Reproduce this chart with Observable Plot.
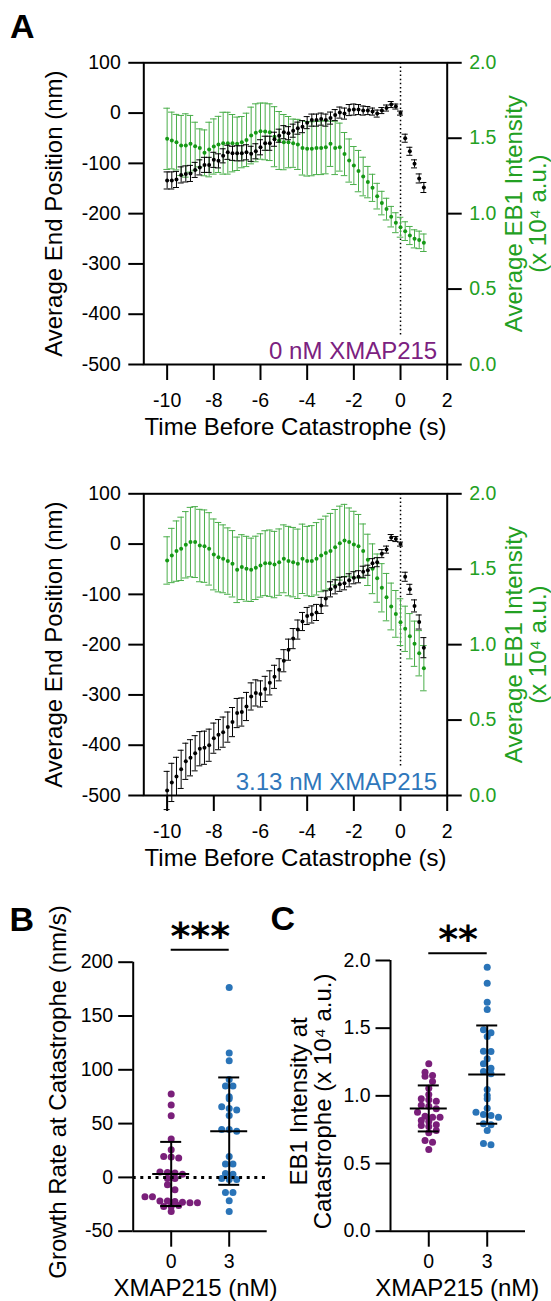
<!DOCTYPE html>
<html><head><meta charset="utf-8">
<script src="https://cdn.jsdelivr.net/npm/d3@7"></script>
<script src="https://cdn.jsdelivr.net/npm/@observablehq/plot@0.6"></script>
<style>
body{margin:0;background:#fff;font-family:"Liberation Sans",Arial,sans-serif;}
#wrap{position:relative;width:551px;height:1301px;overflow:hidden;background:#fff;}
.letter{position:absolute;font-weight:bold;font-size:34px;line-height:34px;font-family:"Liberation Sans",Arial,sans-serif;}
</style></head><body><div id="wrap"></div>
<script>
// ---------- Panel A data ----------
const time = [-10,-9.8,-9.6,-9.4,-9.2,-9,-8.8,-8.6,-8.4,-8.2,-8,-7.8,-7.6,-7.4,-7.2,-7,-6.8,-6.6,-6.4,-6.2,-6,-5.8,-5.6,-5.4,-5.2,-5,-4.8,-4.6,-4.4,-4.2,-4,-3.8,-3.6,-3.4,-3.2,-3,-2.8,-2.6,-2.4,-2.2,-2,-1.8,-1.6,-1.4,-1.2,-1,-0.8,-0.6,-0.4,-0.2,0,0.2,0.4,0.6,0.8,1];
const xTicksA = [-10,-8,-6,-4,-2,0,2];
const yTicksA = [-500,-400,-300,-200,-100,0,100];
const eb1Ticks = [0,0.5,1,1.5,2];

// 0 nM XMAP215
const pos0 = [-134,-134,-132,-123,-121,-120,-113,-108,-103,-103,-93,-95,-85,-78,-80,-80,-80,-78,-81,-76,-68,-60,-60,-52,-45,-38,-40,-35,-30,-27,-19,-14,-14,-12,-14,-10,-4,1,-1,6,7,7,5,5,3,-1,5,10,17,13,0,-50,-76,-101,-130,-148];
const pos0Err = [17,17,16,16,16,16,15,15,15,15,15,14,14,14,14,15,15,15,15,15,15,14,14,14,13,13,13,13,12,12,12,12,12,12,12,12,11,11,11,11,11,10,9,8,7,7,6,6,6,5,4,8,8,8,9,10];
const eb0 = [1.496,1.485,1.474,1.452,1.452,1.463,1.447,1.436,1.403,1.425,1.445,1.459,1.467,1.467,1.467,1.463,1.474,1.489,1.518,1.536,1.547,1.545,1.54,1.51,1.485,1.474,1.474,1.467,1.459,1.436,1.43,1.43,1.436,1.436,1.441,1.463,1.436,1.441,1.395,1.352,1.319,1.282,1.246,1.209,1.171,1.116,1.07,1.03,0.98,0.94,0.91,0.884,0.855,0.833,0.826,0.807];
const eb0Err = [0.203,0.188,0.184,0.199,0.21,0.188,0.159,0.126,0.152,0.181,0.183,0.186,0.205,0.205,0.19,0.177,0.17,0.177,0.188,0.192,0.186,0.188,0.188,0.199,0.192,0.183,0.17,0.16,0.166,0.18,0.181,0.179,0.177,0.177,0.177,0.15,0.177,0.159,0.143,0.143,0.126,0.137,0.128,0.104,0.09,0.085,0.078,0.072,0.068,0.066,0.066,0.062,0.06,0.06,0.058,0.058];

// 3.13 nM XMAP215
const pos3 = [-490,-474,-462,-448,-432,-425,-416,-407,-405,-400,-386,-379,-374,-364,-354,-336,-334,-323,-303,-296,-298,-288,-276,-264,-250,-232,-210,-188,-170,-154,-143,-140,-136,-122,-108,-90,-85,-80,-78,-72,-67,-65,-55,-52,-38,-36,-19,-11,13,10,0,-65,-90,-123,-155,-206];
const pos3Err = [38,38,38,38,36,36,35,34,33,32,30,30,30,30,29,29,28,28,27,26,26,25,24,23,22,22,21,20,19,18,17,17,16,16,15,15,14,14,13,13,12,12,11,10,9,9,8,7,6,5,4,9,10,12,14,20];
const eb3 = [1.558,1.591,1.62,1.635,1.662,1.68,1.68,1.657,1.653,1.635,1.598,1.58,1.569,1.554,1.536,1.496,1.514,1.503,1.496,1.509,1.525,1.54,1.54,1.531,1.547,1.569,1.554,1.547,1.536,1.569,1.554,1.554,1.569,1.591,1.607,1.62,1.646,1.673,1.69,1.68,1.664,1.653,1.62,1.562,1.503,1.441,1.377,1.315,1.253,1.204,1.149,1.105,1.056,1.006,0.943,0.844];
const eb3Err = [0.157,0.18,0.2,0.21,0.22,0.23,0.235,0.24,0.24,0.24,0.235,0.23,0.225,0.22,0.22,0.217,0.215,0.215,0.21,0.21,0.21,0.215,0.22,0.22,0.22,0.225,0.23,0.23,0.23,0.23,0.23,0.235,0.24,0.24,0.245,0.25,0.25,0.245,0.24,0.226,0.22,0.21,0.18,0.17,0.165,0.16,0.16,0.157,0.155,0.155,0.155,0.15,0.15,0.15,0.15,0.15];

// ---------- Panel B / C data ----------
const groups = ["0","3"];
const rate0 = [77.5,67.3,57.3,35.7,25.7,19.5,19,18,5,4.5,4,3,-1,-1,-6.8,-11.4,-18,-18,-22,-22,-22.5,-23,-23.5,-23.5,-27,-27,-26,-31.6];
const rate3 = [176.6,115.6,108.5,91,85,85,75,73,65.7,64,62.6,57.6,44.6,44.6,43,19.5,12.4,12.4,3.7,3,-1,-2,-2,-14,-14,-21.7,-31.6];
const rateMean = [3.2, 43];
const rateSD = [29.8, 49.9];
const rateTicks = [-50,0,50,100,150,200];

const int0 = [1.237,1.175,1.150,1.145,1.106,1.057,1.010,0.978,0.971,0.961,0.93,0.924,0.904,0.879,0.850,0.842,0.842,0.818,0.810,0.786,0.781,0.774,0.744,0.727,0.670,0.658,0.604];
const int3 = [1.950,1.832,1.692,1.638,1.488,1.466,1.438,1.330,1.328,1.274,1.237,1.204,1.180,1.163,1.047,1.003,0.978,0.909,0.879,0.862,0.855,0.842,0.793,0.786,0.744,0.648,0.638];
const intMean = [0.907, 1.157];
const intSD = [0.17, 0.363];
const intTicks = [0,0.5,1,1.5,2];

// ---------- styling ----------
const FONT = '"Liberation Sans", Arial, sans-serif';
const GREEN_TXT = "#22a022", GREEN_DOT = "#159915", GREEN_BAR = "#4aae4a";
const PURPLE = "#7a1f7a", BLUE = "#2a74b8";
const baseStyle = {fontFamily: FONT, fontSize: "19.5px", background: "transparent", overflow: "visible", color: "black"};
const wrap = document.getElementById("wrap");
function place(el, left, top) {
  el.style.position = "absolute"; el.style.left = left + "px"; el.style.top = top + "px";
  wrap.appendChild(el);
}
const toLeft = v => -500 + v * 300; // EB1 axis (0..2) mapped onto position axis (-500..100)

function panelA(pos, posErr, eb, ebErr, label, labelColor) {
  const rows = time.map((t, i) => ({
    t, b: pos[i], bl: pos[i] - posErr[i], bh: pos[i] + posErr[i],
    g: toLeft(eb[i]), gl: toLeft(eb[i] - ebErr[i]), gh: toLeft(eb[i] + ebErr[i])
  }));
  return Plot.plot({
    width: 551, height: 460,
    marginLeft: 143.3, marginRight: 104.3, marginTop: 62.3, marginBottom: 96,
    style: baseStyle,
    x: {domain: [-11, 2]},
    y: {domain: [-500, 100]},
    marks: [
      Plot.ruleX([0], {y1: 100, y2: -445, stroke: "black", strokeWidth: 1.5, strokeDasharray: "1.5,2.6"}),
      Plot.ruleX(rows, {x: "t", y1: "gl", y2: "gh", stroke: GREEN_BAR, strokeWidth: 1}),
      Plot.ruleY(rows, {x1: "t", x2: "t", y: "gl", insetLeft: -3.3, insetRight: -3.3, stroke: GREEN_BAR, strokeWidth: 1}),
      Plot.ruleY(rows, {x1: "t", x2: "t", y: "gh", insetLeft: -3.3, insetRight: -3.3, stroke: GREEN_BAR, strokeWidth: 1}),
      Plot.dot(rows, {x: "t", y: "g", r: 2, fill: GREEN_DOT}),
      Plot.ruleX(rows, {x: "t", y1: "bl", y2: "bh", stroke: "black", strokeWidth: 1}),
      Plot.ruleY(rows, {x1: "t", x2: "t", y: "bl", insetLeft: -3, insetRight: -3, stroke: "black", strokeWidth: 1}),
      Plot.ruleY(rows, {x1: "t", x2: "t", y: "bh", insetLeft: -3, insetRight: -3, stroke: "black", strokeWidth: 1}),
      Plot.dot(rows, {x: "t", y: "b", r: 2, fill: "black"}),
      Plot.frame({stroke: "black", strokeWidth: 2}),
      Plot.axisY({anchor: "left", ticks: yTicksA, tickFormat: d => String(d), tickSize: 15, tickPadding: 8, strokeWidth: 2, label: null}),
      Plot.axisY({anchor: "right", ticks: eb1Ticks.map(toLeft), tickFormat: d => ((d + 500) / 300).toFixed(1), tickSize: 14, tickPadding: 8, strokeWidth: 2, stroke: "black", fill: GREEN_TXT, label: null}),
      Plot.axisX({ticks: xTicksA, tickFormat: d => String(d), tickSize: 16, tickPadding: 13, strokeWidth: 2, label: null}),
      Plot.text([label], {frameAnchor: "bottom-right", dx: -10, dy: -6, lineAnchor: "bottom", textAnchor: "end", fill: labelColor, fontSize: 24}),
      Plot.text(["Average End Position (nm)"], {frameAnchor: "left", dx: -89.3, rotate: -90, textAnchor: "middle", lineAnchor: "middle", fontSize: 24}),
      Plot.text(["Average EB1 Intensity\n(x 10\u2074 a.u.)"], {frameAnchor: "right", dx: 79.3, rotate: -90, textAnchor: "middle", lineAnchor: "middle", fontSize: 24, lineHeight: 1, fill: GREEN_TXT}),
      Plot.text(["Time Before Catastrophe (s)"], {frameAnchor: "bottom", dy: 70, textAnchor: "middle", lineAnchor: "bottom", fontSize: 24})
    ]
  });
}

// GraphPad-like scatter: values falling in the same pixel row are spread side by side
const ROW_PX = 7, SPACING_PX = 7.5, PAD = 0.655;
function scatterRows(cfg) {
  const fh = cfg.H - cfg.mT - cfg.mB, fw = cfg.W - cfg.mL - cfg.mR;
  const pxPerUnit = fw / (1 + 2 * PAD);
  const [y0, y1] = cfg.yDomain;
  const out = [];
  groups.forEach((g, gi) => {
    const byRow = d3.group(cfg.values[gi], v => Math.round((y1 - v) / (y1 - y0) * fh / ROW_PX));
    for (const vs of byRow.values()) {
      vs.forEach((v, j) => out.push({g, v, x: gi + (j - (vs.length - 1) / 2) * SPACING_PX / pxPerUnit}));
    }
  });
  return out;
}

function swarm(cfg) {
  const rows = scatterRows(cfg);
  const summ = groups.map((g, i) => ({i, m: cfg.means[i], lo: cfg.means[i] - cfg.sds[i], hi: cfg.means[i] + cfg.sds[i]}));
  const marks = [
    Plot.dot(rows, {x: "x", y: "v", fill: "g", r: 3.5})
  ];
  if (cfg.zeroLine) marks.push(Plot.ruleY([0], {stroke: "black", strokeWidth: 3, strokeDasharray: "3,4.6"}));
  marks.push(
    Plot.ruleX(summ, {x: "i", y1: "lo", y2: "hi", strokeWidth: 2}),
    Plot.ruleY(summ, {x1: "i", x2: "i", y: "m", insetLeft: -18.5, insetRight: -18.5, strokeWidth: 2}),
    Plot.ruleY(summ, {x1: "i", x2: "i", y: "lo", insetLeft: -10.5, insetRight: -10.5, strokeWidth: 2}),
    Plot.ruleY(summ, {x1: "i", x2: "i", y: "hi", insetLeft: -10.5, insetRight: -10.5, strokeWidth: 2}),
    Plot.ruleX([-PAD], {strokeWidth: 2}),
    Plot.ruleY([cfg.yDomain[0]], {strokeWidth: 2}),
    Plot.axisY({ticks: cfg.yTicks, tickFormat: cfg.yFmt, tickSize: 14.5, tickPadding: 5.5, strokeWidth: 2, label: null}),
    Plot.axisX({ticks: [0, 1], tickFormat: i => groups[i], tickSize: 16, tickPadding: 6.5, strokeWidth: 2, label: null}),
    Plot.text([cfg.yTitle], {frameAnchor: "left", dx: cfg.ytDx, dy: cfg.ytDy, rotate: -90, textAnchor: "middle", lineAnchor: "middle", fontSize: 24, lineHeight: 1}),
    Plot.text(["XMAP215 (nM)"], {frameAnchor: "bottom", dx: cfg.xtDx, dy: 65, textAnchor: "middle", lineAnchor: "bottom", fontSize: 24}),
    Plot.ruleY([{a: 0, b: 1}], {x1: "a", x2: "b", y: () => cfg.yDomain[1], dy: cfg.sigDy, strokeWidth: 2}),
    Plot.text([cfg.stars], {frameAnchor: "top", dy: cfg.starsDy, textAnchor: "middle", lineAnchor: "bottom", fontSize: 38, fontWeight: "bold", fontFamily: "DejaVu Sans"})
  );
  return Plot.plot({
    width: cfg.W, height: cfg.H, marginLeft: cfg.mL, marginRight: cfg.mR, marginTop: cfg.mT, marginBottom: cfg.mB,
    style: baseStyle,
    x: {domain: [-PAD, 1 + PAD]},
    y: {domain: cfg.yDomain},
    color: {domain: groups, range: [PURPLE, BLUE]},
    marks
  });
}

place(panelA(pos0, pos0Err, eb0, eb0Err, "0 nM XMAP215", "#7b2180"), 0, 0);
place(panelA(pos3, pos3Err, eb3, eb3Err, "3.13 nM XMAP215", "#2f77bb"), 0, 431);

place(swarm({
  values: [rate0, rate3], means: rateMean, sds: rateSD, yDomain: [-50, 200], yTicks: rateTicks, yFmt: d => String(d),
  yTitle: "Growth Rate at Catastrophe (nm/s)", ytDx: -74.7, ytDy: -4.7, xtDx: -4.7, zeroLine: true,
  stars: "***", starsDy: -13.7, sigDy: -12.4,
  W: 280, H: 441, mL: 132.7, mR: 13.3, mT: 101.7, mB: 70.3
}), 0, 860);

place(swarm({
  values: [int0, int3], means: intMean, sds: intSD, yDomain: [0, 2], yTicks: intTicks, yFmt: d => d.toFixed(1),
  yTitle: "EB1 Intensity at\nCatastrophe (x 10\u2074 a.u.)", ytDx: -78.7, ytDy: 5.5, xtDx: -0.8, zeroLine: false,
  stars: "**", starsDy: -8.8, sigDy: -7.3,
  W: 281, H: 441, mL: 120, mR: 26, mT: 100, mB: 70.3
}), 270, 860);

for (const [t, l, tp] of [["A", 10, 9], ["B", 9.5, 902], ["C", 270.5, 901]]) {
  const d = document.createElement("div"); d.className = "letter"; d.textContent = t;
  d.style.left = l + "px"; d.style.top = tp + "px"; wrap.appendChild(d);
}
</script></body></html>
